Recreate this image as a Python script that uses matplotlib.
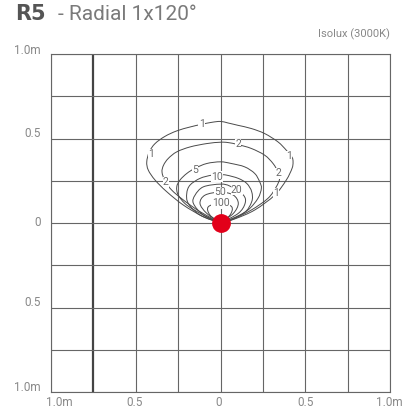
import numpy as np
import matplotlib
matplotlib.use("Agg")
import matplotlib.pyplot as plt
import matplotlib.transforms as mtrans
from matplotlib.path import Path
from matplotlib.patches import PathPatch

plt.rcParams['font.family'] = ['Roboto', 'Liberation Sans', 'DejaVu Sans']

# isolux curves in metres, each starting and ending at the luminaire
iso_1 = [(0, 0), (-0.101, 0.037), (-0.219, 0.106), (-0.317, 0.185), (-0.386, 0.254),
         (-0.426, 0.313), (-0.435, 0.362), (-0.420, 0.421), (-0.386, 0.470),
         (-0.327, 0.513), (-0.258, 0.545), (-0.180, 0.568), (-0.111, 0.584),
         (-0.050, 0.596), (0.0, 0.601), (0.044, 0.592), (0.103, 0.578),
         (0.182, 0.559), (0.261, 0.529), (0.339, 0.480), (0.388, 0.431),
         (0.422, 0.389), (0.428, 0.360), (0.422, 0.323), (0.388, 0.254),
         (0.320, 0.165), (0.202, 0.077), (0.084, 0.024), (0, 0)]
iso_2 = [(0, 0), (-0.121, 0.067), (-0.219, 0.136), (-0.288, 0.195), (-0.327, 0.248),
         (-0.345, 0.301), (-0.336, 0.342), (-0.308, 0.382), (-0.258, 0.421),
         (-0.180, 0.450), (-0.081, 0.470), (0.0, 0.478), (0.044, 0.476),
         (0.103, 0.464), (0.182, 0.441), (0.261, 0.401), (0.310, 0.352),
         (0.339, 0.303), (0.349, 0.264), (0.329, 0.214), (0.280, 0.146),
         (0.182, 0.077), (0.064, 0.018), (0, 0)]
iso_5 = [(0, 0), (-0.101, 0.047), (-0.199, 0.106), (-0.249, 0.165), (-0.258, 0.214),
         (-0.239, 0.254), (-0.199, 0.293), (-0.150, 0.324), (-0.081, 0.352),
         (0, 0.362), (0.064, 0.352), (0.143, 0.332), (0.202, 0.293),
         (0.231, 0.244), (0.241, 0.205), (0.221, 0.146), (0.162, 0.077),
         (0.068, 0.024), (0, 0)]
iso_10 = [(0, 0), (-0.121, 0.047), (-0.190, 0.116), (-0.199, 0.175), (-0.180, 0.224),
          (-0.121, 0.264), (-0.052, 0.283), (0, 0.286), (0.037, 0.283),
          (0.105, 0.264), (0.155, 0.234), (0.184, 0.185), (0.184, 0.126),
          (0.135, 0.057), (0, 0)]
iso_20 = [(0, 0), (-0.101, 0.047), (-0.160, 0.116), (-0.150, 0.165), (-0.101, 0.214),
          (0, 0.230), (0.056, 0.218), (0.135, 0.165), (0.145, 0.116),
          (0.105, 0.057), (0, 0)]
iso_50 = [(0, 0), (-0.081, 0.057), (-0.121, 0.116), (-0.091, 0.165), (0, 0.183),
          (0.076, 0.165), (0.105, 0.116), (0.076, 0.057), (0, 0)]
iso_100 = [(0, 0), (-0.062, 0.047), (-0.072, 0.096), (0, 0.118), (0.066, 0.096),
           (0.056, 0.047), (0, 0)]
curves = [iso_1, iso_2, iso_5, iso_10, iso_20, iso_50, iso_100]

# curve labels: text, x, y
labels = [("1", -0.111, 0.584), ("1", -0.410, 0.407), ("1", 0.404, 0.395),
          ("1", 0.327, 0.177), ("2", 0.103, 0.466), ("2", -0.322, 0.242),
          ("2", 0.339, 0.295), ("5", -0.150, 0.313), ("10", -0.020, 0.274),
          ("20", 0.096, 0.195), ("50", 0.0, 0.181), ("100", 0.0, 0.116)]

tick_pos = [-1.0, -0.5, 0, 0.5, 1.0]
xtick_text = ["1.0m", "0.5", "0", "0.5", "1.0m"]
ytick_text = ["1.0m", "0.5", "0", "0.5", "1.0m"]
grid_pos = np.arange(-1.0, 1.01, 0.25)

# small nudges (pixels) for the axis labels
xlab_dx = [8, -1, -2, 0, -1]
ylab_dy = [4.5, 4.5, 0, 5, 3]


def smooth_path(pts):
    # Catmull-Rom through the points, as cubic Bezier segments
    p = np.array(pts, dtype=float)
    verts = [p[0]]
    codes = [Path.MOVETO]
    n = len(p)
    for i in range(n - 1):
        p0 = p[max(i - 1, 0)]
        p1 = p[i]
        p2 = p[i + 1]
        p3 = p[min(i + 2, n - 1)]
        c1 = p1 + (p2 - p0) / 6.0
        c2 = p2 - (p3 - p1) / 6.0
        verts += [c1, c2, p2]
        codes += [Path.CURVE4] * 3
    return Path(verts, codes)


W, H = 407, 416
fig = plt.figure(figsize=(W / 100, H / 100), dpi=100)
ax = fig.add_axes([51 / W, (H - 392) / H, 339 / W, 338 / H])
ax.set_xlim(-1, 1)
ax.set_ylim(-1, 1)

for g in grid_pos:
    lw, col = (1.6, '#444444') if abs(g + 0.75) < 1e-6 else (0.8, '#666666')
    ax.axvline(g, color=col, lw=lw, zorder=1)
    ax.axhline(g, color='#666666', lw=0.8, zorder=1)

for c in curves:
    ax.add_patch(PathPatch(smooth_path(c), fill=False, ec='#4a4a4a', lw=0.7, zorder=2))

for t, x, y in labels:
    ax.text(x, y, t, ha='center', va='center', fontsize=7.5, color='#6a6a6a',
            bbox=dict(fc='white', ec='none', pad=0.3), zorder=3)

ax.plot([0], [0], 'o', color='#e2001a', markersize=12.5, zorder=4)

for s in ax.spines.values():
    s.set_color('#666666')
    s.set_linewidth(0.8)
ax.set_xticks([])
ax.set_yticks([])

xt = ax.get_xaxis_transform()
yt = ax.get_yaxis_transform()
for v, t, dx in zip(tick_pos, xtick_text, xlab_dx):
    tr = mtrans.offset_copy(xt, fig=fig, x=dx * 0.72, y=-11 * 0.72, units='points')
    ax.text(v, 0, t, transform=tr, ha='center', va='center', fontsize=8.5,
            color='#888888', clip_on=False)
for v, t, dy in zip(tick_pos, ytick_text, ylab_dy):
    tr = mtrans.offset_copy(yt, fig=fig, x=-10.5 * 0.72, y=dy * 0.72, units='points')
    ax.text(0, v, t, transform=tr, ha='right', va='center', fontsize=8.5,
            color='#888888', clip_on=False)

fig.text(15 / W, 1 - 20 / H, "R5", fontsize=15, fontweight='bold', color='#555555',
         va='baseline', family='DejaVu Sans')
fig.text(58 / W, 1 - 20 / H, "- Radial 1x120°", fontsize=15, fontweight='normal',
         color='#7a7a7a', va='baseline')
fig.text(390 / W, 1 - 34 / H, "Isolux (3000K)", fontsize=8, color='#888888',
         ha='right', va='center')

fig.savefig("out.png", dpi=100)
